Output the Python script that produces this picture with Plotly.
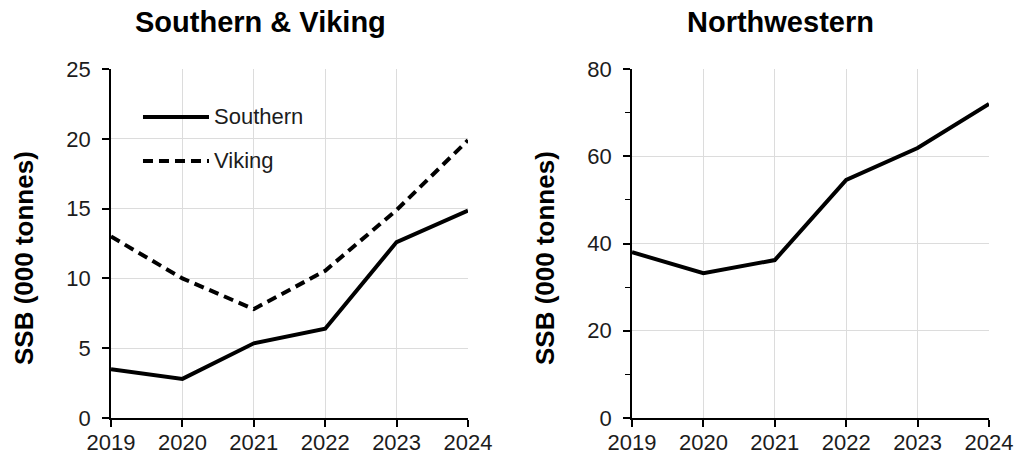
import plotly.graph_objects as go

# Spawning stock biomass (thousand tonnes) by stock, 2019-2024
years = [2019, 2020, 2021, 2022, 2023, 2024]
southern = [3.5, 2.8, 5.35, 6.4, 12.6, 14.85]
viking = [13.0, 10.0, 7.8, 10.55, 14.9, 19.9]
northwestern = [38.0, 33.2, 36.2, 54.6, 61.9, 72.0]

W, H = 1017, 455
FONT = "Liberation Sans, Arial, sans-serif"
TICK_COLOR = "#1c1c1c"
GRID = "#dcdcdc"
LW = 4


def px_x(p):
    return p / W


def px_y(p):
    return 1 - p / H


fig = go.Figure()

fig.add_trace(go.Scatter(x=years, y=southern, mode="lines", name="Southern",
                         line=dict(color="black", width=LW),
                         xaxis="x", yaxis="y", showlegend=False))
fig.add_trace(go.Scatter(x=years, y=viking, mode="lines", name="Viking",
                         line=dict(color="black", width=LW, dash="10px,6px"),
                         xaxis="x", yaxis="y", showlegend=False))
fig.add_trace(go.Scatter(x=years, y=northwestern, mode="lines", name="Northwestern",
                         line=dict(color="black", width=LW),
                         xaxis="x2", yaxis="y2", showlegend=False))

y_dom = [px_y(418), px_y(69)]

xcommon = dict(
    range=[2019, 2024], tickmode="array", tickvals=years,
    ticktext=[str(y) for y in years],
    showgrid=True, gridcolor=GRID, gridwidth=1,
    showline=True, linecolor="black", linewidth=1.6,
    ticks="outside", ticklen=7, tickwidth=1.6, tickcolor="black",
    tickfont=dict(family=FONT, size=22, color=TICK_COLOR),
    ticklabelstandoff=-3,
    zeroline=False, fixedrange=True, automargin=False,
)
ycommon = dict(
    showgrid=True, gridcolor=GRID, gridwidth=1,
    showline=True, linecolor="black", linewidth=1.6,
    ticks="outside", ticklen=7, tickwidth=1.6, tickcolor="black",
    tickfont=dict(family=FONT, size=22, color=TICK_COLOR),
    ticklabelstandoff=7,
    zeroline=False, fixedrange=True, domain=y_dom, automargin=False,
)

fig.update_layout(
    width=W, height=H,
    margin=dict(l=0, r=0, t=0, b=0),
    paper_bgcolor="white", plot_bgcolor="white",
    xaxis=dict(domain=[px_x(111), px_x(468)], anchor="y", **xcommon),
    yaxis=dict(range=[0, 25], dtick=5, anchor="x", **ycommon),
    xaxis2=dict(domain=[px_x(632), px_x(989)], anchor="y2", **xcommon),
    yaxis2=dict(range=[0, 80], dtick=20, anchor="x2",
                minor=dict(dtick=10, ticks="outside", ticklen=5,
                           tickwidth=1.4, tickcolor="black", showgrid=False),
                **ycommon),
)

# Legend drawn inside the left panel
legend_items = [("Southern", "solid", 0.8625), ("Viking", "10px,6px", 0.7364)]
for label, dash, yd in legend_items:
    fig.add_shape(type="line", xref="x domain", yref="y domain",
                  x0=0.0896, x1=0.2745, y0=yd, y1=yd,
                  line=dict(color="black", width=LW, dash=dash))
    fig.add_annotation(text=label, xref="x domain", yref="y domain",
                       x=0.282, y=yd, xanchor="left", yanchor="middle",
                       showarrow=False,
                       font=dict(family=FONT, size=22, color=TICK_COLOR))

# Panel titles
for text, cx in [("Southern &amp; Viking", 260), ("Northwestern", 780)]:
    fig.add_annotation(text=f"<b>{text}</b>", xref="paper", yref="paper",
                       x=px_x(cx), y=px_y(22), xanchor="center", yanchor="middle",
                       showarrow=False,
                       font=dict(family=FONT, size=29, color="black"))

# Y-axis titles
for cx in [24, 545]:
    fig.add_annotation(text="<b>SSB (000 tonnes)</b>", xref="paper", yref="paper",
                       x=px_x(cx), y=px_y(258), xanchor="center", yanchor="middle",
                       textangle=-90, showarrow=False,
                       font=dict(family=FONT, size=26, color="black"))

fig.write_html("out.html")
